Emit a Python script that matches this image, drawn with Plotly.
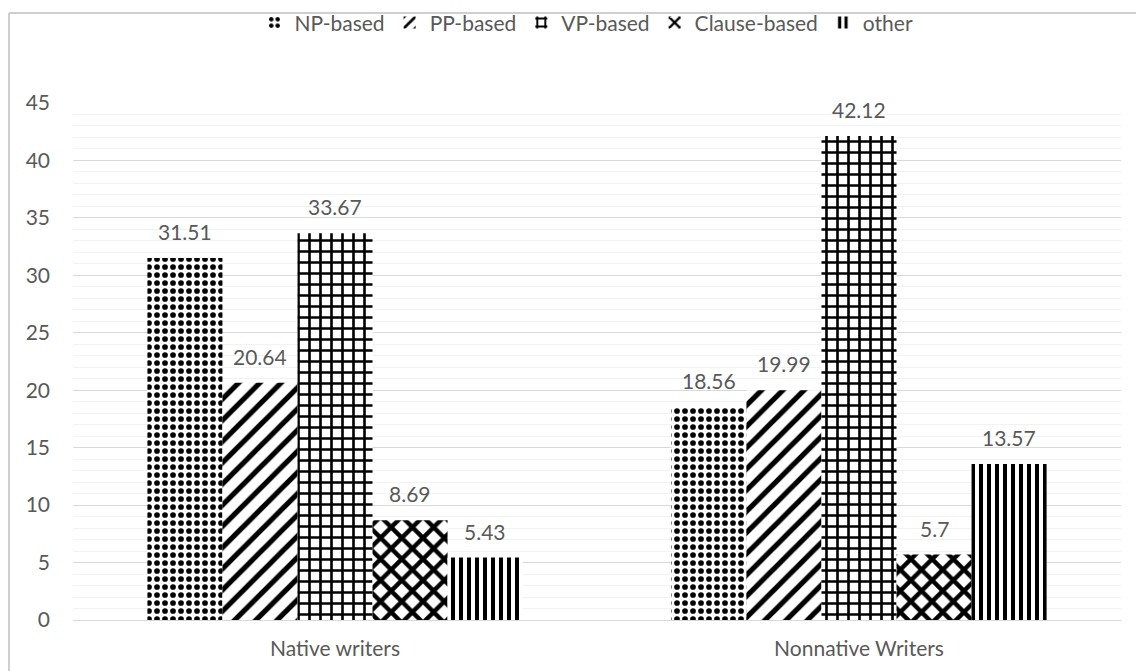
import plotly.graph_objects as go

# Category labels and values per structure type
groups = ["Native writers", "Nonnative Writers"]
np_based = [31.51, 18.56]
pp_based = [20.64, 19.99]
vp_based = [33.67, 42.12]
clause_based = [8.69, 5.7]
other = [5.43, 13.57]

series = [
    ("NP-based", np_based, dict(shape=".", size=8, solidity=0.4)),
    ("PP-based", pp_based, dict(shape="/", size=15, solidity=0.35)),
    ("VP-based", vp_based, dict(shape="+", size=11, solidity=0.42)),
    ("Clause-based", clause_based, dict(shape="x", size=15, solidity=0.5)),
    ("other", other, dict(shape="|", size=8, solidity=0.5)),
]

text_color = "#595959"
font_family = "Lato, 'Open Sans', sans-serif"
font_size = 21

bargap = 0.284
n_series = len(series)
bar_w = (1 - bargap) / n_series

fig = go.Figure()
annotations = []
for i, (name, vals, pat) in enumerate(series):
    fig.add_trace(go.Bar(
        name=name,
        x=groups,
        y=vals,
        marker=dict(
            color="white",
            line=dict(width=0),
            pattern=dict(fgcolor="black", bgcolor="white", fillmode="replace", **pat),
        ),
    ))
    # value labels centred over each bar of the group
    offset = (i - (n_series - 1) / 2) * bar_w
    for gi, v in enumerate(vals):
        annotations.append(dict(
            x=gi + offset, y=v, xref="x", yref="y",
            text=f"{v:g}", showarrow=False,
            yanchor="bottom", yshift=12,
            font=dict(size=font_size, color=text_color, family=font_family),
        ))

# chart frame: top and left edges, placed in pixels from the plot's top-left corner
frame = dict(color="#cfcfcf", width=2)

fig.update_layout(
    width=1136,
    height=671,
    barmode="group",
    bargap=bargap,
    bargroupgap=0,
    plot_bgcolor="white",
    paper_bgcolor="white",
    margin=dict(l=73, r=15, t=103, b=51, autoexpand=False),
    font=dict(family=font_family, size=font_size, color=text_color),
    legend=dict(
        orientation="h",
        x=0.49, xanchor="center",
        y=1.155, yanchor="middle",
        bgcolor="rgba(0,0,0,0)",
        font=dict(size=font_size, color=text_color),
        itemwidth=30,
        traceorder="normal",
    ),
    xaxis=dict(
        showgrid=False,
        showline=False,
        ticks="",
        ticklabelstandoff=14,
        tickfont=dict(size=font_size, color=text_color),
    ),
    yaxis=dict(
        range=[0, 45],
        dtick=5,
        showgrid=True,
        gridcolor="#d9d9d9",
        gridwidth=1,
        zeroline=True,
        zerolinecolor="#d9d9d9",
        zerolinewidth=1,
        ticks="",
        ticklabelstandoff=22,
        tickfont=dict(size=font_size, color=text_color),
        minor=dict(dtick=1, showgrid=True, gridcolor="#f2f2f2", gridwidth=1),
    ),
    annotations=annotations,
    shapes=[
        dict(type="line", xref="paper", yref="paper",
             xsizemode="pixel", ysizemode="pixel", xanchor=0, yanchor=1,
             x0=-64, x1=1100, y0=90, y1=90, line=frame),
        dict(type="line", xref="paper", yref="paper",
             xsizemode="pixel", ysizemode="pixel", xanchor=0, yanchor=1,
             x0=-64, x1=-64, y0=-600, y1=90, line=frame),
    ],
)

fig.write_html("out.html")
